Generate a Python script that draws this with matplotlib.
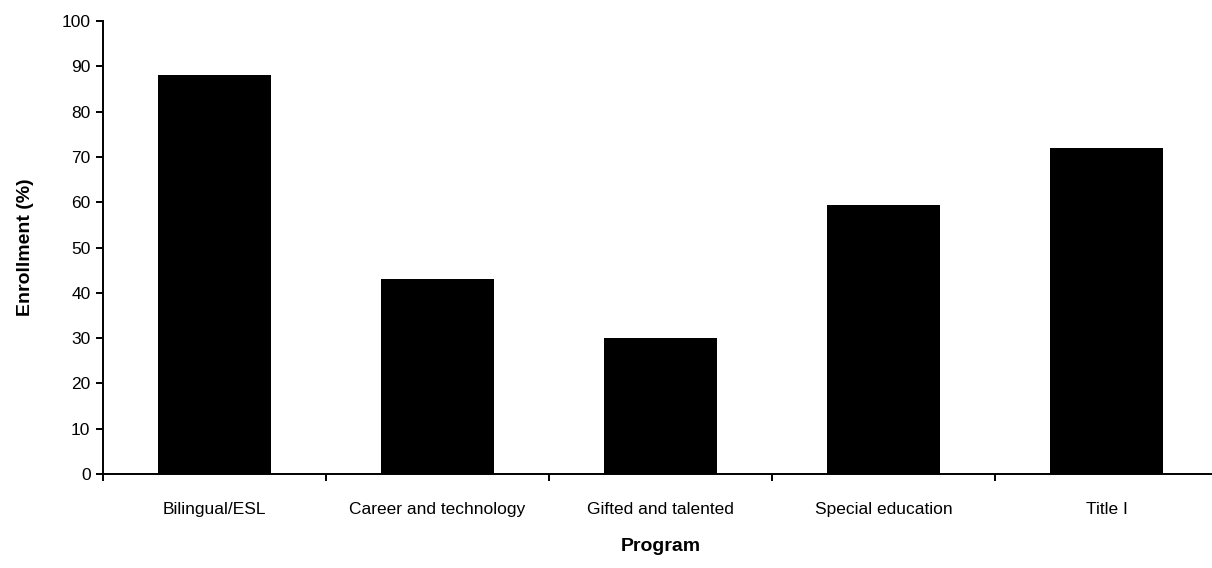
import matplotlib
matplotlib.use("Agg")
import matplotlib.pyplot as plt
import numpy as np

programs = ["Bilingual/ESL", "Career and technology", "Gifted and talented",
            "Special education", "Title I"]
enrollment = [88, 43, 30, 59.3, 72]
y_ticks = list(range(0, 101, 10))

plt.rcParams['font.family'] = ['Liberation Sans', 'DejaVu Sans']

fig = plt.figure(figsize=(12.12, 5.68), dpi=100)
ax = fig.add_axes([103 / 1212, 94 / 568, 1115 / 1212, 453 / 568])

x = np.arange(len(programs))
ax.bar(x, enrollment, width=0.51, color="black", edgecolor="none")

ax.set_xlim(-0.5, len(programs) - 0.5)
ax.set_ylim(0, 100)
ax.set_yticks(y_ticks)
ax.tick_params(axis="y", direction="out", length=5, width=1.4, labelsize=12.5, pad=4)

# category boundaries carry the tick marks, labels sit at centres
ax.set_xticks(np.arange(-0.5, len(programs)), minor=False)
ax.set_xticklabels([])
ax.set_xticks(x, minor=True)
ax.set_xticklabels(programs, minor=True)
ax.tick_params(axis="x", which="major", direction="out", length=5, width=1.4)
ax.tick_params(axis="x", which="minor", length=0, labelsize=12.5, pad=20)

for side in ("top", "right"):
    ax.spines[side].set_visible(False)
for side in ("left", "bottom"):
    ax.spines[side].set_linewidth(1.4)

ax.set_ylabel("Enrollment (%)", fontsize=14, fontweight="bold", labelpad=20)
ax.set_xlabel("Program", fontsize=14, fontweight="bold", labelpad=15.5)

fig.savefig("out.png", dpi=100)
